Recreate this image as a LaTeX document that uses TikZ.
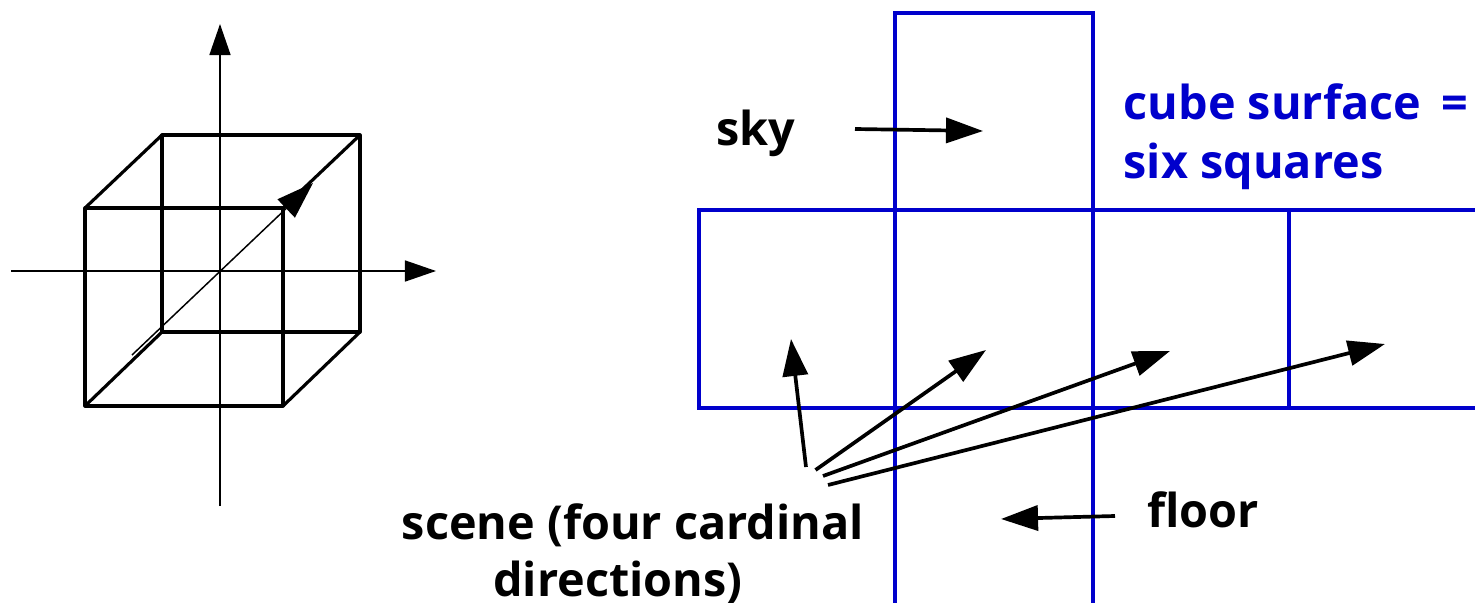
\documentclass[tikz,border=0pt]{standalone}
\usepackage{fontspec}
\setmainfont[BoldFont={* Bold}]{Open Sans}
\usetikzlibrary{arrows.meta}
\definecolor{faceblue}{RGB}{0,0,204}
\tikzstyle{axis} = [line width=0.42pt,-{Triangle[length=0.31cm,width=0.21cm]}]
\tikzstyle{diag} = [line width=0.42pt,-{Triangle[length=0.37cm,width=0.25cm]}]
\tikzstyle{edge} = [line width=0.9pt,line join=round]
\tikzstyle{face} = [line width=0.95pt,faceblue]
\tikzstyle{arrow} = [line width=1.05pt,-{Triangle[length=0.37cm,width=0.25cm]}]
\tikzstyle{word} = [inner sep=0pt,font=\fontsize{13.3pt}{16pt}\selectfont\bfseries]

\begin{document}
\begin{tikzpicture}[x=0.01cm,y=-0.01cm]
            \useasboundingbox (0,0) rectangle (1475,603);
            % axes
            \coordinate (L) at (11,271);
            \coordinate (R) at (436,271);
            \coordinate (T) at (220,24);
            \coordinate (U) at (220,506);
            \draw[axis] (L) -- (R);
            \draw[axis] (U) -- (T);

            % cube, front and back
            \coordinate (A) at (85,406);
            \coordinate (B) at (283,406);
            \coordinate (C) at (283,208);
            \coordinate (D) at (85,208);
            \coordinate (E) at (162,332);
            \coordinate (F) at (360,332);
            \coordinate (G) at (360,135);
            \coordinate (H) at (162,135);
            \draw[edge] (A) -- (B) -- (C) -- (D) -- cycle;
            \draw[edge] (E) -- (F) -- (G) -- (H) -- cycle;
            \draw[edge] (A) -- (E) (B) -- (F) (C) -- (G) (D) -- (H);

            % diagonal
            \coordinate (P) at (132,355);
            \coordinate (Q) at (313,183);
            \draw[diag] (P) -- (Q);

            % unfolded faces
            \coordinate (a) at (699,210);
            \coordinate (d) at (1289,210);
            \coordinate (e) at (1475,210);
            \coordinate (f) at (699,408);
            \coordinate (i) at (1289,408);
            \coordinate (j) at (1475,408);
            \coordinate (k) at (895,13);
            \coordinate (l) at (1093,13);
            \coordinate (m) at (895,603);
            \coordinate (n) at (1093,603);
            \draw[face] (m) -- (k) -- (l) -- (n);
            \draw[face] (e) -- (a) -- (f) -- (j);
            \draw[face] (d) -- (i);

            % labels
            \node[word,anchor=base] (sky) at (756,146) {sky};
            \node[word,anchor=base] (floor) at (1203,527) {floor};
            \node[word,anchor=base west,faceblue] (cube) at (1123,120) {cube surface\, =};
            \node[word,anchor=base west,faceblue] (six) at (1123,179) {six squares};
            \node[word,anchor=base] (scene) at (633,539) {scene (four cardinal};
            \node[word,anchor=base] (dirs) at (618,596) {directions)};

            % pointers
            \coordinate (S1) at (855,129);
            \coordinate (S2) at (983,131);
            \draw[arrow] (S1) -- (S2);
            \coordinate (F1) at (1115,516);
            \coordinate (F2) at (1001,519);
            \draw[arrow] (F1) -- (F2);
            \coordinate (W1) at (806,467);
            \coordinate (W2) at (791,339);
            \draw[arrow] (W1) -- (W2);
            \coordinate (N1) at (815.5,470);
            \coordinate (N2) at (986,350);
            \draw[arrow] (N1) -- (N2);
            \coordinate (E1) at (823,476);
            \coordinate (E2) at (1170,351);
            \draw[arrow] (E1) -- (E2);
            \coordinate (O1) at (828,485);
            \coordinate (O2) at (1385,344);
            \draw[arrow] (O1) -- (O2);
        \end{tikzpicture}
\end{document}
